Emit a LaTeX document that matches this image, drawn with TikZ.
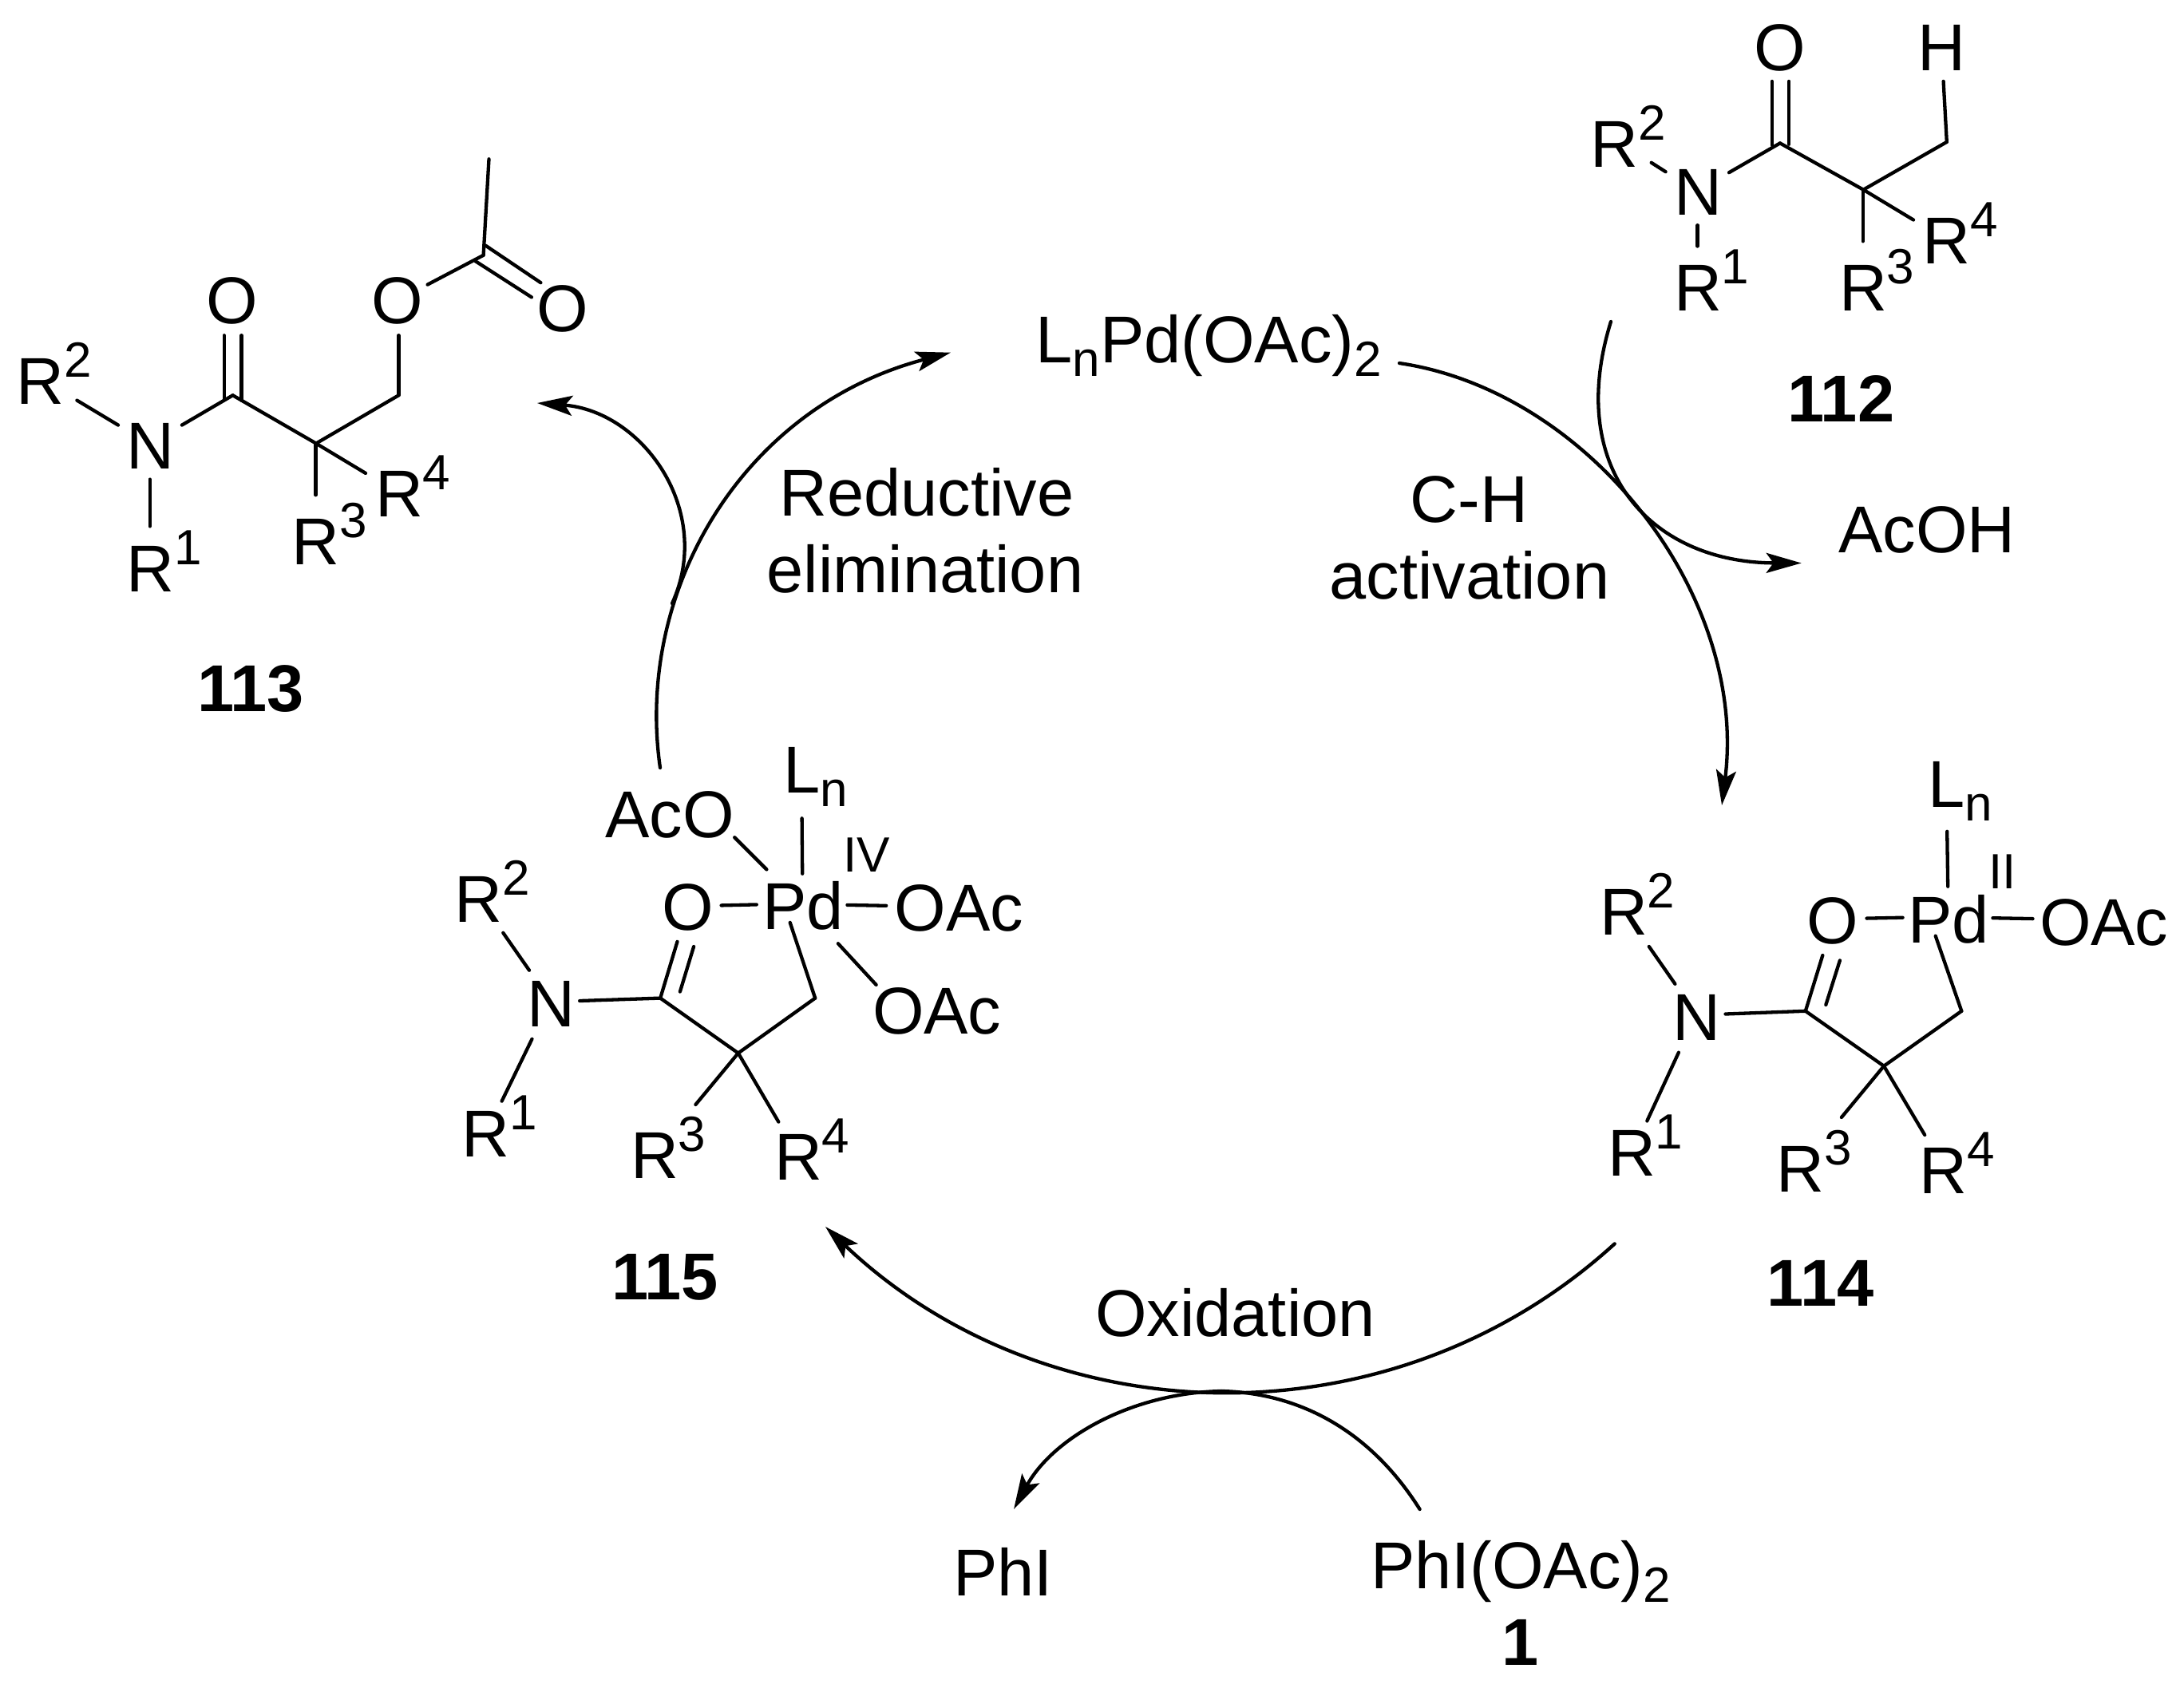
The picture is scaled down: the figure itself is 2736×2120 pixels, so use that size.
\documentclass[tikz,border=0pt]{standalone}
\usepackage{fontspec}
\setmainfont{Liberation Sans}
\usetikzlibrary{arrows.meta}
\newcommand\chemfont{\fontsize{83}{96}\selectfont}
\newcommand\smallfont{\fontsize{62}{66}\selectfont}
\newcommand\up[1]{\raisebox{34pt}{\smallfont #1}}
\newcommand\dn[1]{\raisebox{-17pt}{\smallfont #1}}
\newcommand\bnd[3]{\coordinate (#1a) at (#2); \coordinate (#1b) at (#3); \draw[bondline] (#1a) -- (#1b);}
\tikzset{
  bondline/.style={line width=4.3pt,line cap=round,line join=round,black},
  curve/.style={line width=4.3pt,line cap=round,black},
  arrowcurve/.style={curve,-{Stealth[length=44pt,width=25pt,inset=9pt]}},
  atomw/.style={anchor=base west,inner sep=0pt,outer sep=0pt,font=\chemfont},
  atomc/.style={anchor=base,inner sep=0pt,outer sep=0pt,font=\chemfont},
  supw/.style={anchor=base west,inner sep=0pt,outer sep=0pt,font=\smallfont},
  cmpd/.style={anchor=base,inner sep=0pt,outer sep=0pt,font=\chemfont\bfseries},
}
\begin{document}
\begin{tikzpicture}[x=1pt,y=-1pt]
\useasboundingbox (0,0) rectangle (2736,2120);
\fill[white] (0,0) rectangle (2736,2120);

% --- compound 113
\bnd{pa}{612.5,199.3}{605.6,319.8}
\bnd{pb}{535.6,356.6}{605.6,319.8}
\bnd{pc}{608.5,307.8}{677.4,354.2}
\bnd{pd}{595.3,327}{665.9,372.4}
\bnd{pe}{499.4,420.2}{499.4,495.3}
\bnd{pf}{499.4,495.3}{396,555.6}
\bnd{pg}{396,555.6}{291.6,495.3}
\bnd{ph}{396,555.6}{458,592.9}
\bnd{pi}{395.5,555.6}{395.5,620.2}
\bnd{pj}{280.7,420.2}{280.7,499.2}
\bnd{pk}{302.5,420.2}{302.5,501.6}
\bnd{pl}{291.6,495.3}{227.9,532.6}
\bnd{pm}{148,532.6}{96.4,501.6}
\bnd{pn}{187.7,600.6}{187.7,659.4}
\node[atomc] (pO1) at (291,405.9) {O};
\node[atomc] (pO2) at (498,405.9) {O};
\node[atomc] (pO3) at (705,415.5) {O};
\node[atomw] (pR2) at (20.7,506.3) {R\up{2}};
\node[atomw] (pN) at (158.8,587.6) {N};
\node[atomw] (pR4) at (470,647.4) {R\up{4}};
\node[atomw] (pR3) at (365.7,707.7) {R\up{3}};
\node[atomw] (pR1) at (158.5,741.7) {R\up{1}};
\node[cmpd] (p113) at (314,891.4) {113};

% --- compound 112
\bnd{sa}{2068.7,203.8}{2086.6,215.2}
\bnd{sb}{2126.6,282.2}{2126.6,308.5}
\bnd{sc}{2166,216.2}{2229.9,179.4}
\bnd{sd}{2219.7,101.9}{2219.7,181.8}
\bnd{se}{2241.2,101.9}{2241.2,180.8}
\bnd{sf}{2229.9,179.4}{2334.3,237.7}
\bnd{sg}{2334.3,237.7}{2438.8,177.9}
\bnd{sh}{2438.8,177.9}{2434.6,101.9}
\bnd{si}{2334.3,237.7}{2397,275.5}
\bnd{sj}{2333.7,237.7}{2333.7,302.3}
\node[atomc] (sO) at (2229.9,88.5) {O};
\node[atomw] (sH) at (2402.6,88.5) {H};
\node[atomw] (sR2) at (1992.5,209) {R\up{2}};
\node[atomw] (sN) at (2097,269.3) {N};
\node[atomw] (sR4) at (2408.6,330) {R\up{4}};
\node[atomw] (sR1) at (2097,389.8) {R\up{1}};
\node[atomw] (sR3) at (2304,389.8) {R\up{3}};
\node[cmpd] (s112) at (2306.3,528.5) {112};
\node[atomw] (acoh) at (2303.5,692) {AcOH};

% --- compound 115
\bnd{ta}{920.2,1049.2}{960.4,1089.4}
\bnd{tb}{1004.6,1025.3}{1005.2,1094.7}
\bnd{tc}{903.6,1134.4}{947.8,1133.4}
\bnd{td}{1061.4,1133.9}{1110.2,1134.8}
\bnd{te}{989.7,1155.9}{1021.2,1250.6}
\bnd{tf}{1049.9,1182.2}{1097.6,1233.9}
\bnd{tg}{848.5,1179.8}{827.2,1250.6}
\bnd{th}{869.1,1186}{851.9,1242.5}
\bnd{ti}{726.2,1254}{827.2,1250.6}
\bnd{tj}{827.2,1250.6}{924.8,1319.5}
\bnd{tk}{924.8,1319.5}{1021.2,1250.6}
\bnd{tl}{924.8,1319.5}{871.4,1384}
\bnd{tm}{924.8,1319.5}{975.3,1405.6}
\bnd{tn}{630.3,1168.8}{663,1215.7}
\bnd{to}{666.5,1301.8}{628.6,1379.7}
\node[atomw] (tAcO) at (758.3,1049.2) {AcO};
\node[atomw] (tLn) at (981,993.3) {L\dn{n}};
\node[supw] (tIV) at (1056,1092.3) {IV};
\node[atomc] (tO) at (861.7,1165.5) {O};
\node[atomw] (tPd) at (955,1164.5) {Pd};
\node[atomw] (tOAc) at (1120.6,1166.4) {OAc};
\node[atomw] (tOAcb) at (1093,1295.6) {OAc};
\node[atomw] (tR2) at (569.5,1155) {R\up{2}};
\node[atomw] (tN) at (660.5,1286.5) {N};
\node[atomw] (tR1) at (578.7,1449) {R\up{1}};
\node[atomw] (tR3) at (790,1476.4) {R\up{3}};
\node[atomw] (tR4) at (970,1478.8) {R\up{4}};
\node[cmpd] (t115) at (833,1628) {115};

% --- compound 114
\bnd{ua}{2439.2,1041.8}{2440.2,1110.7}
\bnd{ub}{2338.5,1150.6}{2383.6,1149.7}
\bnd{uc}{2496.4,1150.2}{2546.5,1151.1}
\bnd{ud}{2424.7,1172.7}{2457.3,1266.8}
\bnd{ue}{2283.3,1197}{2261.8,1266.8}
\bnd{uf}{2304.9,1203.4}{2287.3,1259}
\bnd{ug}{2161.5,1270.5}{2261.8,1266.8}
\bnd{uh}{2261.8,1266.8}{2360,1335.7}
\bnd{ui}{2360,1335.7}{2457.3,1266.8}
\bnd{uj}{2360,1335.7}{2306.9,1400}
\bnd{uk}{2360,1335.7}{2411.2,1422}
\bnd{ul}{2065.8,1186}{2098.4,1232.8}
\bnd{um}{2102.9,1318.7}{2063.3,1404.5}
\node[atomw] (uLn) at (2415.4,1011) {L\dn{n}};
\node[supw] (uII) at (2491.4,1113) {II};
\node[atomc] (uO) at (2295.9,1182.8) {O};
\node[atomw] (uPd) at (2390,1181.9) {Pd};
\node[atomw] (uOAc) at (2555,1184) {OAc};
\node[atomw] (uR2) at (2004,1171.8) {R\up{2}};
\node[atomw] (uN) at (2095.4,1303.5) {N};
\node[atomw] (uR1) at (2014,1473.4) {R\up{1}};
\node[atomw] (uR3) at (2225.4,1493) {R\up{3}};
\node[atomw] (uR4) at (2404.7,1495.5) {R\up{4}};
\node[cmpd] (u114) at (2280.8,1636.4) {114};

% --- centre and bottom labels
\node[atomw] (cat) at (1297.6,454) {L\dn{n}Pd(OAc)\dn{2}};
\node[atomc] (re1) at (1161,646) {Reductive};
\node[atomc] (re2) at (1159,742.7) {elimination};
\node[atomc] (ch1) at (1840.5,654) {C-H};
\node[atomc] (ch2) at (1841,750) {activation};
\node[atomc] (ox) at (1547.5,1674.6) {Oxidation};
\node[atomw] (phi) at (1194,1999) {PhI};
\node[atomw] (phio) at (1717,1990.7) {PhI(OAc)\dn{2}};
\node[cmpd] (one) at (1905,2086) {1};

% --- cycle arrows
\coordinate (a1s) at (1753,455);  \coordinate (a1e) at (2157,1009);
\coordinate (a2s) at (2022.7,1558.4); \coordinate (a2e) at (1034,1537);
\coordinate (a3s) at (827,962);   \coordinate (a3e) at (1191,441.7);
\coordinate (a4s) at (842,756);   \coordinate (a4e) at (673,505);
\coordinate (a5s) at (2018,403);  \coordinate (a5e) at (2256.7,705.5);
\coordinate (a6m) at (1530,1743); \coordinate (a6e) at (1270,1891);
\coordinate (a7s) at (1778.6,1891);
\draw[arrowcurve] (a1s) .. controls (1990,490) and (2190,745) .. (a1e);
\draw[arrowcurve] (a2s) .. controls (1741.5,1815) and (1310,1799.5) .. (a2e);
\draw[arrowcurve] (a3s) .. controls (795,740) and (930,510) .. (a3e);
\draw[arrowcurve] (a4s) .. controls (895,640) and (805,515) .. (a4e);
\draw[arrowcurve] (a5s) .. controls (1960,590) and (2070,705) .. (a5e);
\draw[arrowcurve] (a6m) .. controls (1420,1745) and (1320,1800) .. (a6e);
\draw[curve] (a7s) .. controls (1715,1790) and (1625,1745) .. (a6m);
\end{tikzpicture}
\end{document}
